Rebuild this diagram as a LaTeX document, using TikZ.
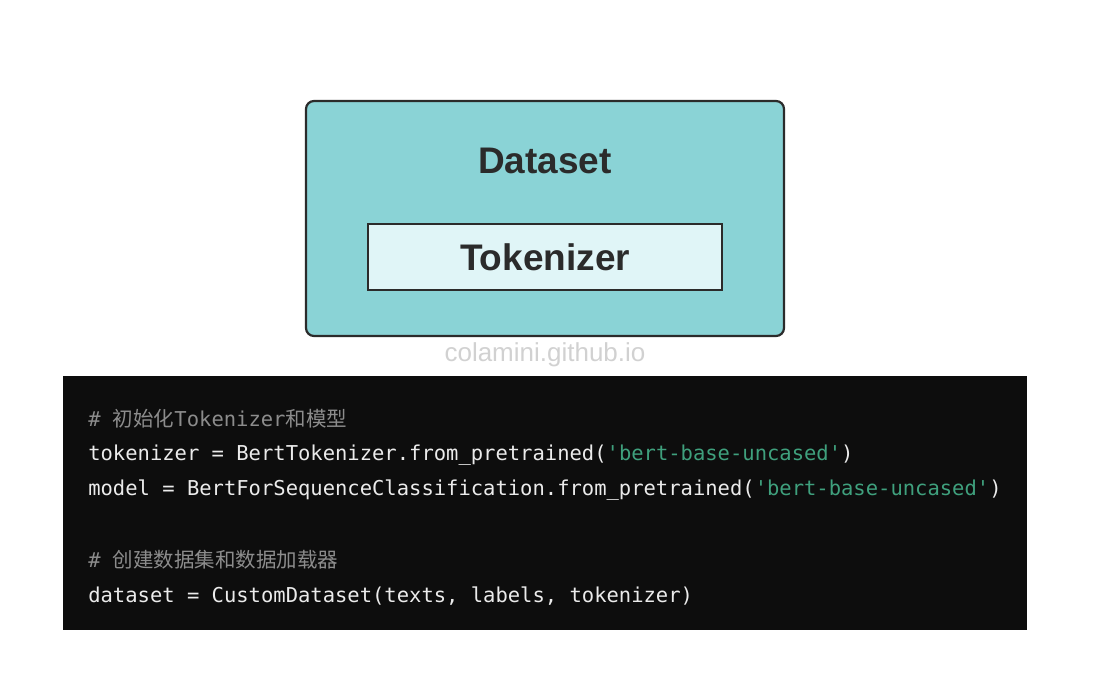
\documentclass[tikz,border=0pt]{standalone}
\usepackage{fontspec}
\usepackage{tikz}
\usetikzlibrary{positioning}
\setmainfont{Liberation Sans}
\newfontfamily\codefont{DejaVu Sans Mono}
\newfontfamily\cjk{Noto Sans CJK SC}
\definecolor{dscolor}{RGB}{138,211,214}
\definecolor{tkcolor}{RGB}{224,245,247}
\definecolor{edgecolor}{RGB}{43,43,43}
\definecolor{codebg}{RGB}{13,13,13}
\definecolor{codetext}{RGB}{235,235,235}
\definecolor{codecomment}{RGB}{140,140,140}
\definecolor{codestring}{RGB}{63,160,125}
\newcommand{\squote}{\char"27\relax}
\newcommand{\bertstr}{\textcolor{codestring}{\squote bert-base-uncased\squote}}

\begin{document}
\begin{tikzpicture}[x=1pt,y=-1pt,semithick]
 \tikzstyle{outerbox}=[draw=edgecolor,line width=2.2pt,fill=dscolor,rounded corners=8pt,minimum width=478pt,minimum height=235pt,inner sep=0pt]
 \tikzstyle{innerbox}=[draw=edgecolor,line width=2.2pt,fill=tkcolor,minimum width=354pt,minimum height=66pt,inner sep=0pt]
 \tikzstyle{title}=[text=edgecolor,font=\fontsize{37}{44}\selectfont\bfseries,inner sep=0pt]
 \tikzstyle{codeline}=[anchor=west,inner sep=0pt,text=codetext,font=\codefont\fontsize{20.5}{24}\selectfont]

 \useasboundingbox (0,0) rectangle (1100,698);

   \node[outerbox] (dataset) at (545,218.5) {};
   \node[title] (dslabel) at (545,161) {Dataset};
   \node[innerbox] (tokenizer) at (545,257) {};
   \node[title] (tklabel) at (tokenizer) {Tokenizer};
   \node[text=black!18,font=\fontsize{26}{30}\selectfont,inner sep=0pt] (mark) at (545,355) {colamini.github.io};

   \node[fill=codebg,minimum width=964pt,minimum height=254pt,inner sep=0pt] (code) at (545,503) {};
   \node[codeline,text=codecomment] (c1) at (88,419) {\#~{\cjk 初始化}Tokenizer{\cjk 和模型}};
   \node[codeline] (c2) at (88,455) {tokenizer = BertTokenizer.from\_pretrained(\bertstr)};
   \node[codeline] (c3) at (88,490) {model = BertForSequenceClassification.from\_pretrained(\bertstr)};
   \node[codeline,text=codecomment] (c4) at (88,560) {\#~{\cjk 创建数据集和数据加载器}};
   \node[codeline] (c5) at (88,596) {dataset = CustomDataset(texts, labels, tokenizer)};

\end{tikzpicture}
\end{document}
